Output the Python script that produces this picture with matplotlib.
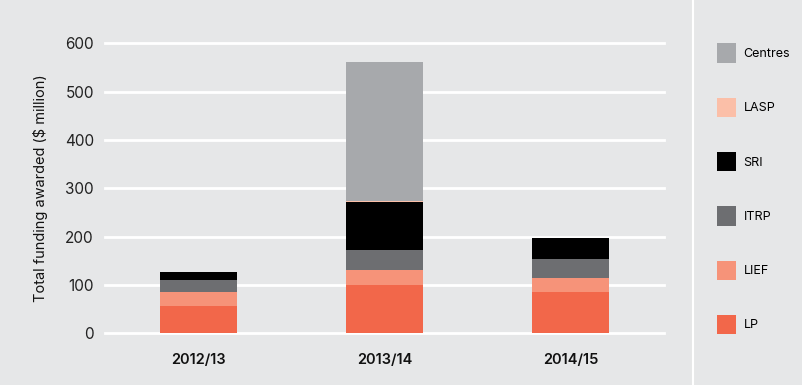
import matplotlib.pyplot as plt
import numpy as np

plt.rcParams['font.family'] = ['Inter', 'DejaVu Sans']

years = ['2012/13', '2013/14', '2014/15']
schemes = ['LP', 'LIEF', 'ITRP', 'SRI', 'LASP', 'Centres']
lp = [56, 100, 85]
lief = [29, 32, 29]
itrp = [25, 40, 39]
sri = [17, 99, 45]
lasp = [0.5, 2, 0]
centres = [0, 289, 0]
colors = ['#f2674a', '#f69379', '#6d6e71', '#000000', '#fbbfa8', '#a7a9ac']

BG = '#e6e7e8'

fig = plt.figure(figsize=(8.03, 3.85), dpi=100, facecolor=BG)
ax = fig.add_axes([105 / 803, 1 - 333.3 / 385, (664 - 105) / 803, 290 / 385])
ax.set_facecolor(BG)

x = np.arange(len(years))
bottom = np.zeros(len(years))
handles = []
for name, vals, c in zip(schemes, [lp, lief, itrp, sri, lasp, centres], colors):
    h = ax.bar(x, vals, width=0.414, bottom=bottom, color=c, label=name, zorder=3)
    handles.append(h)
    bottom += np.array(vals)

ax.set_xlim(-0.503, 2.503)
ax.set_ylim(0, 600)
ax.set_yticks(range(0, 601, 100))
ax.yaxis.grid(True, color='white', linewidth=2, zorder=1)
ax.set_axisbelow(True)
for s in ax.spines.values():
    s.set_visible(False)
ax.tick_params(axis='both', length=0)
ax.tick_params(axis='y', labelsize=11, colors='#222222', pad=8)
ax.set_xticks(x)
ax.set_xticklabels(years, fontsize=10.5, fontweight='semibold', color='#111111')
ax.tick_params(axis='x', pad=14)
ax.set_ylabel('Total funding awarded ($ million)', fontsize=10.5, color='#111111', labelpad=12)
for g in ax.get_ygridlines():
    g.set_clip_on(False)

# vertical separator
fig.add_artist(plt.Line2D([693 / 803, 693 / 803], [0, 1], color='white', linewidth=1.5))

fig.legend(handles[::-1], schemes[::-1], loc='upper left',
           bbox_to_anchor=(706 / 803, 1 - 32 / 385), frameon=False,
           fontsize=9, handlelength=1.5, handleheight=2.0,
           labelspacing=2.8, handletextpad=0.6)

fig.savefig('out.png', dpi=100, facecolor=BG)
